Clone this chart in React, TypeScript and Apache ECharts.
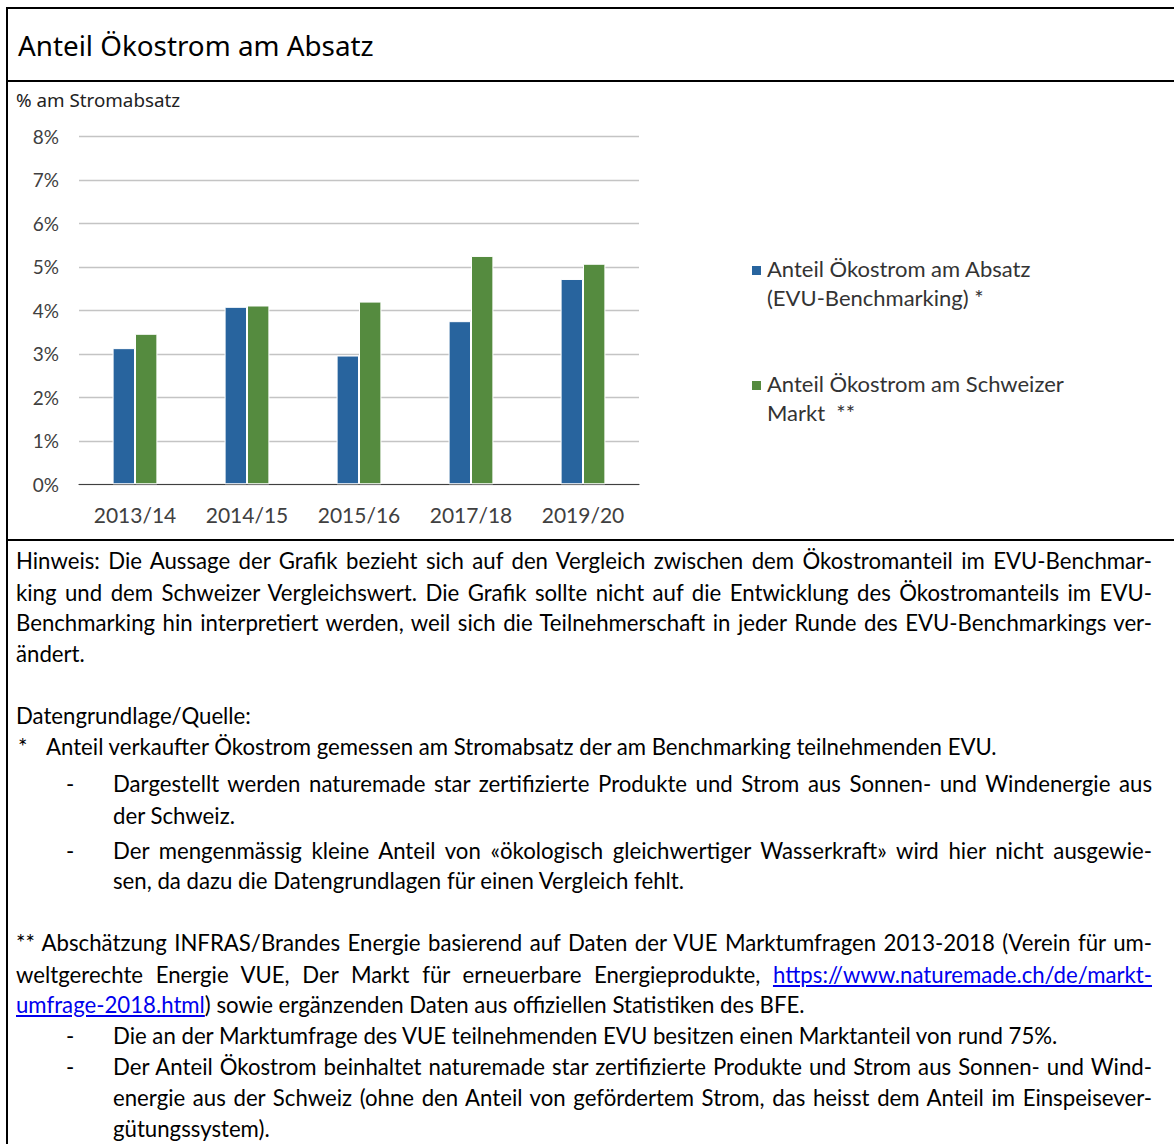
import React, { useEffect, useRef } from "react";
import * as echarts from "echarts";

const titleText = "Anteil Ökostrom am Absatz";
const unitText = "% am Stromabsatz";
const categories = ["2013/14", "2014/15", "2015/16", "2017/18", "2019/20"];
const evuValues = [3.13, 4.08, 2.96, 3.75, 4.72];
const marketValues = [3.46, 4.11, 4.2, 5.25, 5.07];
const seriesNames = [
  "Anteil Ökostrom am Absatz\n(EVU-Benchmarking) *",
  "Anteil Ökostrom am Schweizer\nMarkt  **",
];
const seriesColors = ["#28649e", "#558b3f"];
const yMin = 0;
const yMax = 8;
const yStep = 1;

type Line = {
  y: number;
  x: number;
  text: React.ReactNode;
  justify?: boolean;
  marker?: string;
  markerX?: number;
};

const LINK_STYLE: React.CSSProperties = { color: "#0000ee", textDecoration: "underline" };

const noteLines: Line[] = [
  { y: 560, x: 16, justify: true, text: "Hinweis: Die Aussage der Grafik bezieht sich auf den Vergleich zwischen dem Ökostromanteil im EVU-Benchmar-" },
  { y: 592, x: 16, justify: true, text: "king und dem Schweizer Vergleichswert. Die Grafik sollte nicht auf die Entwicklung des Ökostromanteils im EVU-" },
  { y: 622, x: 16, justify: true, text: "Benchmarking hin interpretiert werden, weil sich die Teilnehmerschaft in jeder Runde des EVU-Benchmarkings ver-" },
  { y: 653, x: 16, text: "ändert." },
  { y: 715, x: 16, text: "Datengrundlage/Quelle:" },
  { y: 746, x: 46, marker: "*", markerX: 18, text: "Anteil verkaufter Ökostrom gemessen am Stromabsatz der am Benchmarking teilnehmenden EVU." },
  { y: 783, x: 113, marker: "-", markerX: 66, justify: true, text: "Dargestellt werden naturemade star zertifizierte Produkte und Strom aus Sonnen- und Windenergie aus" },
  { y: 815, x: 113, text: "der Schweiz." },
  { y: 850, x: 113, marker: "-", markerX: 66, justify: true, text: "Der mengenmässig kleine Anteil von «ökologisch gleichwertiger Wasserkraft» wird hier nicht ausgewie-" },
  { y: 880, x: 113, text: "sen, da dazu die Datengrundlagen für einen Vergleich fehlt." },
  { y: 942, x: 16, justify: true, text: "** Abschätzung INFRAS/Brandes Energie basierend auf Daten der VUE Marktumfragen 2013-2018 (Verein für um-" },
  {
    y: 974,
    x: 16,
    justify: true,
    text: (
      <>
        weltgerechte Energie VUE, Der Markt für erneuerbare Energieprodukte,{" "}
        <span style={LINK_STYLE}>https://www.naturemade.ch/de/markt-</span>
      </>
    ),
  },
  {
    y: 1004,
    x: 16,
    text: (
      <>
        <span style={LINK_STYLE}>umfrage-2018.html</span>) sowie ergänzenden Daten aus offiziellen Statistiken des BFE.
      </>
    ),
  },
  { y: 1035, x: 113, marker: "-", markerX: 66, text: "Die an der Marktumfrage des VUE teilnehmenden EVU besitzen einen Marktanteil von rund 75%." },
  { y: 1066, x: 113, marker: "-", markerX: 66, justify: true, text: "Der Anteil Ökostrom beinhaltet naturemade star zertifizierte Produkte und Strom aus Sonnen- und Wind-" },
  { y: 1097, x: 113, justify: true, text: "energie aus der Schweiz (ohne den Anteil von gefördertem Strom, das heisst dem Anteil im Einspeisever-" },
  { y: 1128, x: 113, text: "gütungssystem)." },
];

const TEXT_RIGHT = 1152;
const LINE_H = 31;
const NOTE_FONT = 22.2;

function Chart() {
  const ref = useRef<HTMLDivElement>(null);
  useEffect(() => {
    if (!ref.current) return;
    const chart = echarts.init(ref.current, undefined, { renderer: "svg" });
    const legendText = {
      fontFamily: "Lato",
      fontSize: 22,
      color: "#333333",
      lineHeight: 29,
      rich: {
        s: { fontSize: 1, lineHeight: 25 },
        a: { fontFamily: "Lato", fontSize: 22, color: "#333333", lineHeight: 29 },
      },
    };
    const legendFormatter = (name: string) =>
      "{s| }\n" + name.split("\n").map((p) => `{a|${p}}`).join("\n");
    chart.setOption({
      animation: false,
      title: {
        text: unitText,
        left: 7,
        top: 7,
        padding: 0,
        textStyle: { fontFamily: "Noto Sans", fontSize: 18.8, fontWeight: "normal", color: "#222" },
      },
      legend: [
        {
          data: [seriesNames[0]],
          left: 741,
          top: 146,
          padding: 0,
          itemWidth: 11,
          itemHeight: 11,
          icon: "rect",
          selectedMode: false,
          formatter: legendFormatter,
          textStyle: legendText,
        },
        {
          data: [seriesNames[1]],
          left: 741,
          top: 261,
          padding: 0,
          itemWidth: 11,
          itemHeight: 11,
          icon: "rect",
          selectedMode: false,
          formatter: legendFormatter,
          textStyle: legendText,
        },
      ],
      grid: { left: 70, top: 53.3, width: 560, height: 348, containLabel: false },
      xAxis: {
        type: "category",
        data: categories,
        axisTick: { show: false },
        axisLine: { lineStyle: { color: "#404040", width: 1.2 } },
        axisLabel: { fontFamily: "Lato", fontSize: 21, color: "#404040", margin: 20 },
      },
      yAxis: {
        type: "value",
        min: yMin,
        max: yMax,
        interval: yStep,
        axisLine: { show: false },
        axisTick: { show: false },
        splitLine: { lineStyle: { color: "#c4c4c4", width: 1.3 } },
        axisLabel: {
          formatter: "{value}%",
          fontFamily: "Lato",
          fontSize: 19,
          color: "#404040",
          margin: 20,
        },
      },
      series: [
        {
          name: seriesNames[0],
          type: "bar",
          data: evuValues,
          barGap: "0%",
          barCategoryGap: "60%",
          itemStyle: { color: seriesColors[0], borderColor: "#ffffff", borderWidth: 1 },
        },
        {
          name: seriesNames[1],
          type: "bar",
          data: marketValues,
          barGap: "0%",
          barCategoryGap: "60%",
          itemStyle: { color: seriesColors[1], borderColor: "#ffffff", borderWidth: 1 },
        },
      ],
    });
    return () => chart.dispose();
  }, []);
  return <div ref={ref} style={{ position: "absolute", left: 9, top: 83, width: 1165, height: 456 }} />;
}

export default function App() {
  return (
    <div
      style={{
        position: "fixed",
        left: 0,
        top: 0,
        width: 1174,
        height: 1144,
        overflow: "hidden",
        background: "#ffffff",
        fontFamily: "Lato, sans-serif",
        color: "#000",
      }}
    >
      <div style={{ position: "absolute", left: 7, top: 7, width: 1167, height: 2, background: "#000" }} />
      <div style={{ position: "absolute", left: 7, top: 80, width: 1167, height: 2, background: "#000" }} />
      <div style={{ position: "absolute", left: 7, top: 539, width: 1167, height: 2, background: "#000" }} />
      <div style={{ position: "absolute", left: 6, top: 7, width: 2, height: 1137, background: "#000" }} />

      <div
        style={{
          position: "absolute",
          left: 18,
          top: 26,
          height: 38,
          lineHeight: "38px",
          fontFamily: "Noto Sans",
          fontSize: 27.8,
          whiteSpace: "nowrap",
          color: "#000",
        }}
      >
        {titleText}
      </div>

      <Chart />

      {noteLines.map((ln, i) => (
        <React.Fragment key={i}>
          {ln.marker && (
            <div
              style={{
                position: "absolute",
                left: ln.markerX,
                top: ln.y - LINE_H / 2,
                height: LINE_H,
                lineHeight: `${LINE_H}px`,
                fontSize: NOTE_FONT,
              }}
            >
              {ln.marker}
            </div>
          )}
          <div
            style={{
              position: "absolute",
              left: ln.x,
              top: ln.y - LINE_H / 2,
              width: TEXT_RIGHT - ln.x,
              height: LINE_H,
              lineHeight: `${LINE_H}px`,
              fontSize: NOTE_FONT,
              whiteSpace: "nowrap",
              textAlign: ln.justify ? "justify" : "left",
              textAlignLast: ln.justify ? "justify" : "left",
            }}
          >
            {ln.text}
          </div>
        </React.Fragment>
      ))}
    </div>
  );
}
